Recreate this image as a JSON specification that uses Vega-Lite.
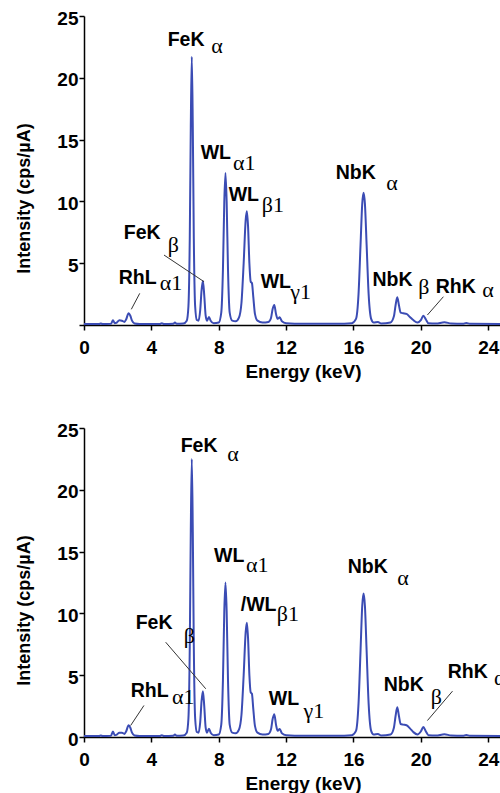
{
  "$schema": "https://vega.github.io/schema/vega-lite/v6.json",
  "background": "white",
  "padding": {"left": 15, "top": 9, "right": 0, "bottom": 0},
  "spacing": 40,
  "config": {
    "view": {"stroke": null},
    "axis": {
      "grid": false,
      "domainColor": "black",
      "domainWidth": 1.5,
      "tickColor": "black",
      "tickWidth": 1.5,
      "tickSize": 5,
      "labelFont": "Liberation Sans",
      "labelFontWeight": "bold",
      "labelFontSize": 19,
      "labelColor": "black",
      "titleFont": "Liberation Sans",
      "titleFontWeight": "bold",
      "titleFontSize": 19,
      "titleColor": "black"
    }
  },
  "datasets": {
    "specTop": [
      {"x":0,"y":0.08},{"x":0.9,"y":0.08},{"x":1.0,"y":0.12},{"x":1.1,"y":0.08},{"x":1.6,"y":0.1},{"x":1.72,"y":0.38},{"x":1.82,"y":0.15},{"x":1.95,"y":0.2},{"x":2.1,"y":0.38},{"x":2.25,"y":0.35},{"x":2.4,"y":0.25},{"x":2.5,"y":0.45},{"x":2.65,"y":0.95},{"x":2.75,"y":0.75},{"x":2.85,"y":0.35},{"x":3.0,"y":0.12},{"x":3.3,"y":0.08},{"x":4.5,"y":0.08},{"x":4.62,"y":0.15},{"x":4.75,"y":0.08},{"x":5.3,"y":0.1},{"x":5.4,"y":0.2},{"x":5.5,"y":0.1},{"x":5.9,"y":0.12},{"x":6.1,"y":0.35},{"x":6.2,"y":1.5},{"x":6.28,"y":7},{"x":6.34,"y":16},{"x":6.4,"y":21.7},{"x":6.46,"y":16},{"x":6.52,"y":7},{"x":6.6,"y":1.5},{"x":6.7,"y":0.4},{"x":6.8,"y":0.35},{"x":6.9,"y":1.2},{"x":6.98,"y":2.8},{"x":7.06,"y":3.55},{"x":7.14,"y":2.4},{"x":7.22,"y":0.8},{"x":7.3,"y":0.35},{"x":7.42,"y":0.65},{"x":7.52,"y":0.35},{"x":7.7,"y":0.15},{"x":8.0,"y":0.2},{"x":8.15,"y":1.0},{"x":8.25,"y":4.5},{"x":8.33,"y":10},{"x":8.4,"y":12.3},{"x":8.47,"y":10},{"x":8.55,"y":4.5},{"x":8.65,"y":1.0},{"x":8.8,"y":0.35},{"x":9.0,"y":0.3},{"x":9.2,"y":0.6},{"x":9.35,"y":1.8},{"x":9.48,"y":5.0},{"x":9.6,"y":8.5},{"x":9.67,"y":9.2},{"x":9.74,"y":8.0},{"x":9.82,"y":5.0},{"x":9.9,"y":3.5},{"x":9.97,"y":3.4},{"x":10.05,"y":2.3},{"x":10.15,"y":0.9},{"x":10.3,"y":0.35},{"x":10.6,"y":0.2},{"x":10.95,"y":0.25},{"x":11.1,"y":0.55},{"x":11.2,"y":1.3},{"x":11.3,"y":1.62},{"x":11.4,"y":0.9},{"x":11.5,"y":0.5},{"x":11.62,"y":0.62},{"x":11.75,"y":0.3},{"x":12.0,"y":0.15},{"x":13.0,"y":0.1},{"x":15.0,"y":0.1},{"x":15.9,"y":0.15},{"x":16.15,"y":0.5},{"x":16.3,"y":2.5},{"x":16.42,"y":6.5},{"x":16.52,"y":9.8},{"x":16.6,"y":10.7},{"x":16.68,"y":9.8},{"x":16.78,"y":6.5},{"x":16.9,"y":2.5},{"x":17.05,"y":0.5},{"x":17.2,"y":0.2},{"x":17.45,"y":0.25},{"x":17.65,"y":0.12},{"x":18.2,"y":0.2},{"x":18.4,"y":0.7},{"x":18.5,"y":1.6},{"x":18.6,"y":2.25},{"x":18.7,"y":1.6},{"x":18.8,"y":1.0},{"x":18.95,"y":0.95},{"x":19.15,"y":0.9},{"x":19.35,"y":0.65},{"x":19.55,"y":0.4},{"x":19.8,"y":0.2},{"x":20.0,"y":0.4},{"x":20.15,"y":0.75},{"x":20.3,"y":0.45},{"x":20.45,"y":0.15},{"x":20.9,"y":0.12},{"x":21.4,"y":0.22},{"x":21.8,"y":0.12},{"x":22.5,"y":0.1},{"x":22.7,"y":0.17},{"x":22.9,"y":0.1},{"x":24.7,"y":0.08}
    ],
    "specBot": [
      {"x":0,"y":0.08},{"x":0.9,"y":0.08},{"x":1.0,"y":0.12},{"x":1.1,"y":0.08},{"x":1.6,"y":0.1},{"x":1.72,"y":0.45},{"x":1.82,"y":0.15},{"x":1.95,"y":0.2},{"x":2.1,"y":0.35},{"x":2.25,"y":0.35},{"x":2.4,"y":0.25},{"x":2.5,"y":0.45},{"x":2.65,"y":0.95},{"x":2.75,"y":0.75},{"x":2.85,"y":0.35},{"x":3.0,"y":0.12},{"x":3.3,"y":0.08},{"x":4.5,"y":0.08},{"x":4.62,"y":0.15},{"x":4.75,"y":0.08},{"x":5.3,"y":0.1},{"x":5.4,"y":0.2},{"x":5.5,"y":0.1},{"x":5.9,"y":0.12},{"x":6.1,"y":0.35},{"x":6.2,"y":1.5},{"x":6.28,"y":7.3},{"x":6.34,"y":16.6},{"x":6.4,"y":22.5},{"x":6.46,"y":16.6},{"x":6.52,"y":7.3},{"x":6.6,"y":1.5},{"x":6.7,"y":0.4},{"x":6.8,"y":0.35},{"x":6.9,"y":1.2},{"x":6.98,"y":2.9},{"x":7.06,"y":3.7},{"x":7.14,"y":2.5},{"x":7.22,"y":0.8},{"x":7.3,"y":0.35},{"x":7.42,"y":0.67},{"x":7.52,"y":0.35},{"x":7.7,"y":0.15},{"x":8.0,"y":0.2},{"x":8.15,"y":1.0},{"x":8.25,"y":4.6},{"x":8.33,"y":10.2},{"x":8.4,"y":12.5},{"x":8.47,"y":10.2},{"x":8.55,"y":4.6},{"x":8.65,"y":1.0},{"x":8.8,"y":0.35},{"x":9.0,"y":0.3},{"x":9.2,"y":0.6},{"x":9.35,"y":1.8},{"x":9.48,"y":5.0},{"x":9.6,"y":8.5},{"x":9.67,"y":9.25},{"x":9.74,"y":8.0},{"x":9.82,"y":5.0},{"x":9.9,"y":3.6},{"x":9.97,"y":3.5},{"x":10.05,"y":2.3},{"x":10.15,"y":0.9},{"x":10.3,"y":0.35},{"x":10.6,"y":0.2},{"x":10.95,"y":0.25},{"x":11.1,"y":0.6},{"x":11.2,"y":1.45},{"x":11.3,"y":1.85},{"x":11.4,"y":1.0},{"x":11.5,"y":0.5},{"x":11.62,"y":0.65},{"x":11.75,"y":0.3},{"x":12.0,"y":0.15},{"x":13.0,"y":0.1},{"x":15.0,"y":0.1},{"x":15.9,"y":0.15},{"x":16.15,"y":0.5},{"x":16.3,"y":2.7},{"x":16.42,"y":7.0},{"x":16.52,"y":10.6},{"x":16.6,"y":11.6},{"x":16.68,"y":10.6},{"x":16.78,"y":7.0},{"x":16.9,"y":2.7},{"x":17.05,"y":0.5},{"x":17.2,"y":0.2},{"x":17.45,"y":0.25},{"x":17.65,"y":0.12},{"x":18.2,"y":0.2},{"x":18.4,"y":0.75},{"x":18.5,"y":1.7},{"x":18.6,"y":2.4},{"x":18.7,"y":1.7},{"x":18.8,"y":1.05},{"x":18.95,"y":1.0},{"x":19.15,"y":0.95},{"x":19.35,"y":0.7},{"x":19.55,"y":0.4},{"x":19.8,"y":0.2},{"x":20.0,"y":0.45},{"x":20.15,"y":0.8},{"x":20.3,"y":0.45},{"x":20.45,"y":0.15},{"x":20.9,"y":0.12},{"x":21.4,"y":0.22},{"x":21.8,"y":0.12},{"x":22.5,"y":0.1},{"x":22.7,"y":0.17},{"x":22.9,"y":0.1},{"x":24.7,"y":0.08}
    ],
    "labTop": [
      {"x":4.97,"y":23.06,"t":"FeK"},{"x":6.93,"y":13.89,"t":"WL"},{"x":8.59,"y":10.52,"t":"WL"},{"x":2.36,"y":7.44,"t":"FeK"},{"x":2.06,"y":3.8,"t":"RhL"},{"x":10.49,"y":3.5,"t":"WL"},{"x":14.95,"y":12.3,"t":"NbK"},{"x":17.13,"y":3.64,"t":"NbK"},{"x":20.88,"y":3.1,"t":"RhK"}
    ],
    "subTop": [
      {"x":7.55,"y":22.57,"t":"α"},{"x":8.85,"y":13.1,"t":"α1"},{"x":10.55,"y":9.71,"t":"β1"},{"x":4.97,"y":6.47,"t":"β"},{"x":4.5,"y":3.4,"t":"α1"},{"x":12.25,"y":2.69,"t":"γ1"},{"x":17.95,"y":11.49,"t":"α"},{"x":19.85,"y":3.05,"t":"β"},{"x":23.65,"y":2.83,"t":"α"}
    ],
    "leadTop": [
      {"x":4.75,"y":5.66,"x2":7.13,"y2":3.5},{"x":3.31,"y":2.56,"x2":2.81,"y2":1.27},{"x":21.34,"y":2.29,"x2":20.39,"y2":0.81}
    ],
    "labBot": [
      {"x":5.74,"y":23.58,"t":"FeK"},{"x":7.72,"y":14.68,"t":"WL"},{"x":9.31,"y":10.64,"t":"/WL"},{"x":3.07,"y":9.26,"t":"FeK"},{"x":2.77,"y":3.76,"t":"RhL"},{"x":10.97,"y":3.11,"t":"WL"},{"x":15.66,"y":13.74,"t":"NbK"},{"x":17.8,"y":4.17,"t":"NbK"},{"x":21.6,"y":5.24,"t":"RhK"}
    ],
    "subBot": [
      {"x":8.5,"y":22.9,"t":"α"},{"x":9.62,"y":13.88,"t":"α1"},{"x":11.45,"y":9.99,"t":"β1"},{"x":5.92,"y":8.21,"t":"β"},{"x":5.22,"y":3.2,"t":"α1"},{"x":13.04,"y":2.14,"t":"γ1"},{"x":18.6,"y":12.9,"t":"α"},{"x":20.59,"y":3.2,"t":"β"},{"x":24.35,"y":4.81,"t":"α"}
    ],
    "leadBot": [
      {"x":4.85,"y":7.67,"x2":7.23,"y2":3.9},{"x":3.56,"y":2.55,"x2":2.77,"y2":0.93},{"x":21.88,"y":3.71,"x2":20.39,"y2":1.33}
    ]
  },
  "vconcat": [
    {
      "width": 416,
      "height": 309,
      "layer": [
        {
          "data": {"name": "specTop"},
          "mark": {"type": "line", "color": "#3b4cb4", "strokeWidth": 2, "interpolate": "monotone"},
          "encoding": {
            "x": {"field": "x", "type": "quantitative", "scale": {"domain": [0, 24.7], "nice": false, "zero": false},
              "axis": {"title": "Energy (keV)", "values": [0,2,4,6,8,10,12,14,16,18,20,22,24], "labelExpr": "datum.value % 4 === 0 ? datum.label : ''", "labelPadding": 8, "labelFlush": false, "labelOverlap": false, "titleX": 219, "titleY": 52, "titleBaseline": "alphabetic", "titleAnchor": null}},
            "y": {"field": "y", "type": "quantitative", "scale": {"domain": [0, 25], "nice": false},
              "axis": {"title": "Intensity (cps/µA)", "titleFontSize": 18, "values": [0,2.5,5,7.5,10,12.5,15,17.5,20,22.5,25], "labelExpr": "datum.value % 5 === 0 && datum.value > 0 ? datum.label : ''", "labelPadding": 1, "labelOffset": 2, "labelOverlap": false, "labelFlush": false, "titleX": -60, "titleY": 182, "titleAngle": -90, "titleAlign": "center", "titleBaseline": "middle"}}
          }
        },
        {
          "mark": {"type": "rule", "color": "black", "strokeWidth": 1.5},
          "encoding": {"y": {"datum": 25}}
        },
        {
          "data": {"name": "leadTop"},
          "mark": {"type": "rule", "color": "#333333", "strokeWidth": 1},
          "encoding": {
            "x": {"field": "x", "type": "quantitative"},
            "y": {"field": "y", "type": "quantitative"},
            "x2": {"field": "x2"},
            "y2": {"field": "y2"}
          }
        },
        {
          "data": {"name": "labTop"},
          "mark": {"type": "text", "font": "Liberation Sans", "fontWeight": "bold", "fontSize": 19.5, "align": "left", "baseline": "middle", "color": "black"},
          "encoding": {
            "x": {"field": "x", "type": "quantitative"},
            "y": {"field": "y", "type": "quantitative"},
            "text": {"field": "t"}
          }
        },
        {
          "data": {"name": "subTop"},
          "mark": {"type": "text", "font": "Liberation Serif", "fontSize": 22, "align": "left", "baseline": "middle", "color": "black", "clip": true},
          "encoding": {
            "x": {"field": "x", "type": "quantitative"},
            "y": {"field": "y", "type": "quantitative"},
            "text": {"field": "t"}
          }
        }
      ]
    },
    {
      "width": 416,
      "height": 309,
      "layer": [
        {
          "data": {"name": "specBot"},
          "mark": {"type": "line", "color": "#3b4cb4", "strokeWidth": 2, "interpolate": "monotone"},
          "encoding": {
            "x": {"field": "x", "type": "quantitative", "scale": {"domain": [0, 24.7], "nice": false, "zero": false},
              "axis": {"title": "Energy (keV)", "values": [0,2,4,6,8,10,12,14,16,18,20,22,24], "labelExpr": "datum.value % 4 === 0 ? datum.label : ''", "labelPadding": 8, "labelFlush": false, "labelOverlap": false, "titleX": 219, "titleY": 52, "titleBaseline": "alphabetic", "titleAnchor": null}},
            "y": {"field": "y", "type": "quantitative", "scale": {"domain": [0, 25], "nice": false},
              "axis": {"title": "Intensity (cps/µA)", "titleFontSize": 18, "values": [0,2.5,5,7.5,10,12.5,15,17.5,20,22.5,25], "labelExpr": "datum.value % 5 === 0 ? datum.label : ''", "labelPadding": 1, "labelOffset": 2, "labelOverlap": false, "labelFlush": false, "titleX": -60, "titleY": 182, "titleAngle": -90, "titleAlign": "center", "titleBaseline": "middle"}}
          }
        },
        {
          "mark": {"type": "rule", "color": "black", "strokeWidth": 1.5},
          "encoding": {"y": {"datum": 25}}
        },
        {
          "data": {"name": "leadBot"},
          "mark": {"type": "rule", "color": "#333333", "strokeWidth": 1},
          "encoding": {
            "x": {"field": "x", "type": "quantitative"},
            "y": {"field": "y", "type": "quantitative"},
            "x2": {"field": "x2"},
            "y2": {"field": "y2"}
          }
        },
        {
          "data": {"name": "labBot"},
          "mark": {"type": "text", "font": "Liberation Sans", "fontWeight": "bold", "fontSize": 19.5, "align": "left", "baseline": "middle", "color": "black"},
          "encoding": {
            "x": {"field": "x", "type": "quantitative"},
            "y": {"field": "y", "type": "quantitative"},
            "text": {"field": "t"}
          }
        },
        {
          "data": {"name": "subBot"},
          "mark": {"type": "text", "font": "Liberation Serif", "fontSize": 22, "align": "left", "baseline": "middle", "color": "black", "clip": true},
          "encoding": {
            "x": {"field": "x", "type": "quantitative"},
            "y": {"field": "y", "type": "quantitative"},
            "text": {"field": "t"}
          }
        }
      ]
    }
  ]
}
